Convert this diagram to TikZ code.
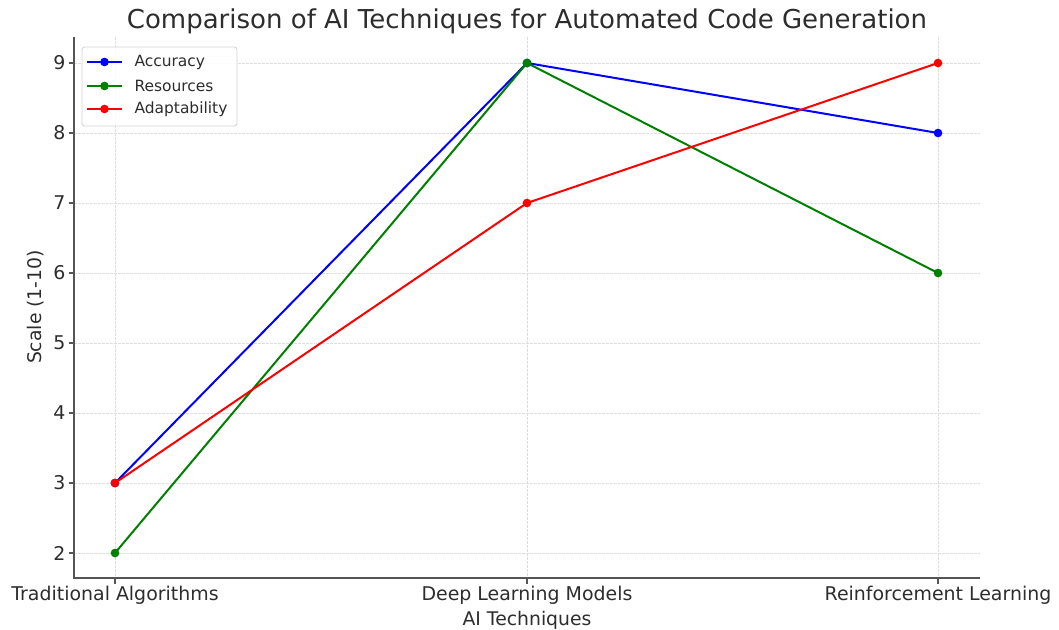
\documentclass[tikz,border=0pt]{standalone}
\usepackage{fontspec}
\setmainfont{DejaVu Sans}
\definecolor{axisgray}{RGB}{85,85,85}
\definecolor{gridgray}{RGB}{222,222,222}
\definecolor{txtgray}{RGB}{45,45,45}
\definecolor{accblue}{RGB}{0,0,255}
\definecolor{resgreen}{RGB}{0,128,0}
\definecolor{adared}{RGB}{255,0,0}
\tikzset{every picture/.style={line width=0.75pt}}
\tikzset{
  gridline/.style={draw=gridgray, line width=0.6pt, dash pattern=on 2pt off 1pt},
  spine/.style={draw=axisgray, line width=1.1pt},
  series/.style={line width=1.5pt},
  dot/.style={circle, fill=#1, draw=none, inner sep=0pt, minimum size=6.5pt},
  ticklabel/.style={inner sep=0.75pt, text=txtgray, font=\fontsize{14.2}{16}\selectfont},
  legendtext/.style={inner sep=0.75pt, anchor=west, text=txtgray, font=\fontsize{11.6}{13}\selectfont},
}

\begin{document}
\begin{tikzpicture}[x=0.75pt,y=0.75pt,yscale=-1,xscale=1]
\useasboundingbox (0,0) rectangle (1059,630);

%Grid and y ticks
\foreach \v [evaluate=\v as \yy using 63+(9-\v)*70] in {2,...,9}{
  \draw [gridline] (74,\yy) -- (980,\yy) ;
  \draw [axisgray, line width=1pt] (68.5,\yy) -- (74,\yy) ;
  \node (ytick\v) [ticklabel, anchor=east] at (67,\yy) {\v};
}
%Grid and x ticks
\foreach \xx/\lab [count=\i] in {115/Traditional Algorithms,527/Deep Learning Models,938/Reinforcement Learning}{
  \draw [gridline] (\xx,37) -- (\xx,578) ;
  \draw [axisgray, line width=1pt] (\xx,578) -- (\xx,583.5) ;
  \node (xtick\i) [ticklabel, anchor=base] at (\xx,600) {\lab};
}

%Spines
\draw [spine] (74,37) -- (74,578) -- (980,578) ;

%Data points
\coordinate (acc1) at (115,483); \coordinate (acc2) at (527,63);  \coordinate (acc3) at (938,133);
\coordinate (res1) at (115,553); \coordinate (res2) at (527,63);  \coordinate (res3) at (938,273);
\coordinate (ada1) at (115,483); \coordinate (ada2) at (527,203); \coordinate (ada3) at (938,63);

%Accuracy
\draw [series, accblue] (acc1) -- (acc2) -- (acc3) ;
\foreach \p in {acc1,acc2,acc3} \node [dot=accblue] at (\p) {};
%Resources
\draw [series, resgreen] (res1) -- (res2) -- (res3) ;
\foreach \p in {res1,res2,res3} \node [dot=resgreen] at (\p) {};
%Adaptability
\draw [series, adared] (ada1) -- (ada2) -- (ada3) ;
\foreach \p in {ada1,ada2,ada3} \node [dot=adared] at (\p) {};

%Legend
\draw [draw=black!18, fill=white, fill opacity=0.85, rounded corners=2pt, line width=0.6pt] (82,47) rectangle (237,126) ;
\draw [series, accblue] (87,62) -- (122,62) ; \node (legacc) [dot=accblue] at (104.5,62) {};
\node (txtacc) [legendtext] at (133,62) {Accuracy};
\draw [series, resgreen] (87,86) -- (122,86) ; \node (legres) [dot=resgreen] at (104.5,86) {};
\node (txtres) [legendtext] at (133,86) {Resources};
\draw [series, adared] (87,109) -- (122,109) ; \node (legada) [dot=adared] at (104.5,109) {};
\node (txtada) [legendtext] at (133,109) {Adaptability};

% Text Node
\node (title) [anchor=base, inner sep=0.75pt, text=txtgray, font=\fontsize{19.5}{22}\selectfont] at (527,29) {Comparison of AI Techniques for Automated Code Generation};
% Text Node
\node (xlabel) [anchor=base, inner sep=0.75pt, text=txtgray, font=\fontsize{14.1}{16}\selectfont] at (527,625) {AI Techniques};
% Text Node
\node (ylabel) [rotate=90, inner sep=0.75pt, text=txtgray, font=\fontsize{14.1}{16}\selectfont] at (36,307) {Scale (1-10)};

\end{tikzpicture}
\end{document}
